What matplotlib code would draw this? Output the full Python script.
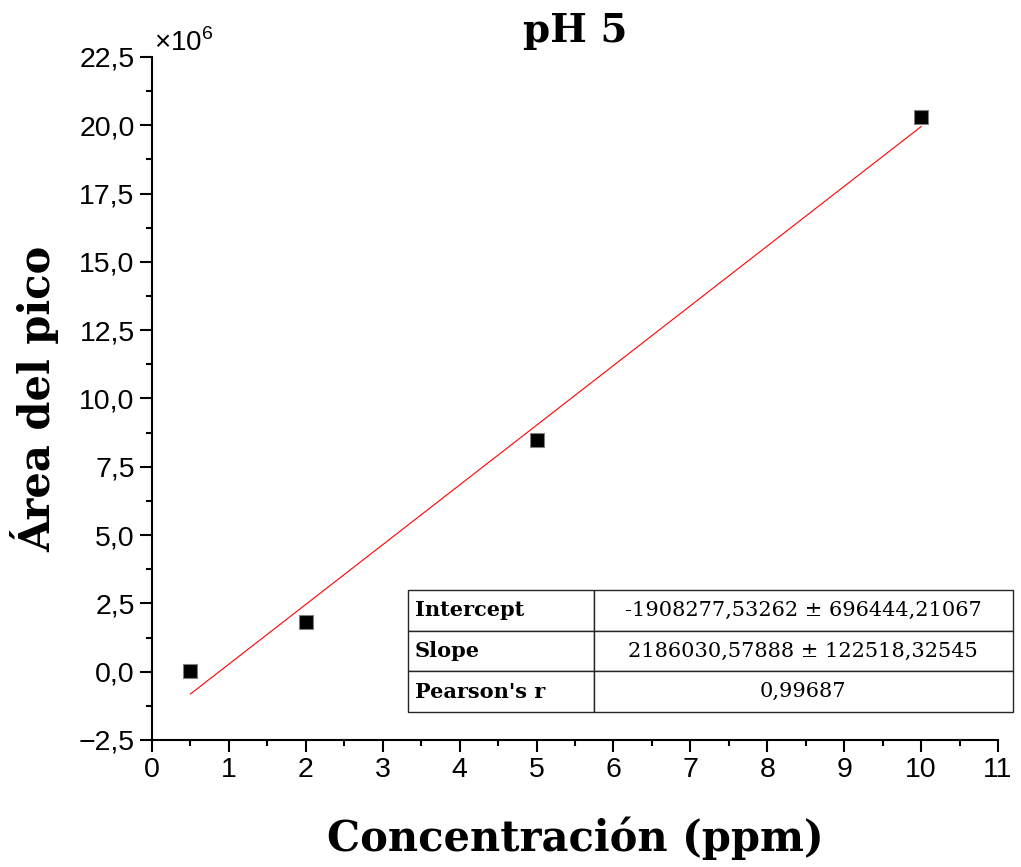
import numpy as np
import matplotlib.pyplot as plt
from matplotlib.ticker import MultipleLocator, FuncFormatter

plt.rcParams['font.family'] = ['Liberation Sans', 'DejaVu Sans']
plt.rcParams['mathtext.fontset'] = 'custom'
plt.rcParams['mathtext.rm'] = 'Liberation Sans'

# calibration points (concentration in ppm, peak area)
conc = [0.5, 2.0, 5.0, 10.0]
area = [0.03e6, 1.82e6, 8.48e6, 20.32e6]

# linear fit results
intercept = -1908277.53262
intercept_err = 696444.21067
slope = 2186030.57888
slope_err = 122518.32545
pearson_r = 0.99687

fit_rows = ["Intercept", "Slope", "Pearson's r"]
fit_vals = [
    "-1908277,53262 \u00b1 696444,21067",
    "2186030,57888 \u00b1 122518,32545",
    "0,99687",
]

serif = ['DejaVu Serif']

fig = plt.figure(figsize=(10.21, 8.67), dpi=100)
ax = fig.add_axes([0.1489, 0.1465, 0.8286, 0.7878])

# fitted line over the measured range
xf = np.array([min(conc), max(conc)])
ax.plot(xf, intercept + slope * xf, color='red', lw=0.8, zorder=2)

ax.scatter(conc, area, marker='s', s=115, color='black',
           edgecolors='0.5', linewidths=0.8, zorder=3)

ax.set_xlim(0, 11)
ax.set_ylim(-2.5e6, 22.5e6)

ax.xaxis.set_major_locator(MultipleLocator(1))
ax.xaxis.set_minor_locator(MultipleLocator(0.5))
ax.yaxis.set_major_locator(MultipleLocator(2.5e6))
ax.yaxis.set_minor_locator(MultipleLocator(1.25e6))


def y_fmt(v, pos):
    s = '{:.1f}'.format(v / 1e6).replace('.', ',')
    return s.replace('-', '\u2212')


ax.yaxis.set_major_formatter(FuncFormatter(y_fmt))

for side in ['top', 'right']:
    ax.spines[side].set_visible(False)
for side in ['left', 'bottom']:
    ax.spines[side].set_linewidth(1.5)

ax.tick_params(which='major', direction='out', length=8.5, width=1.5,
               labelsize=20.5, pad=4)
ax.tick_params(which='minor', direction='out', length=4.5, width=1.5)

ax.text(0.002, 1.0, r'$\times10^{6}$', transform=ax.transAxes,
        fontsize=20, ha='left', va='bottom')

ax.set_title('pH 5', fontsize=28, fontweight='bold', family=serif, pad=11)
ax.set_xlabel('Concentración (ppm)', fontsize=30, fontweight='bold',
              family=serif, labelpad=24)
ax.set_ylabel('Área del pico', fontsize=30, fontweight='bold',
              family=serif, labelpad=14)

tab = ax.table(cellText=[[r, v] for r, v in zip(fit_rows, fit_vals)],
               colWidths=[0.307, 0.693],
               bbox=[0.3026, 0.041, 0.715, 0.1786])
tab.auto_set_font_size(False)
for (i, j), cell in tab.get_celld().items():
    cell.set_edgecolor('0.15')
    cell.set_linewidth(1.0)
    txt = cell.get_text()
    txt.set_fontsize(15)
    txt.set_family(serif)
    if j == 0:
        txt.set_fontweight('bold')
        cell.PAD = 0.035
        cell._loc = 'left'
        txt.set_ha('left')
    else:
        txt.set_ha('center')
tab.set_clip_on(False)

fig.savefig('out.png', dpi=100)
